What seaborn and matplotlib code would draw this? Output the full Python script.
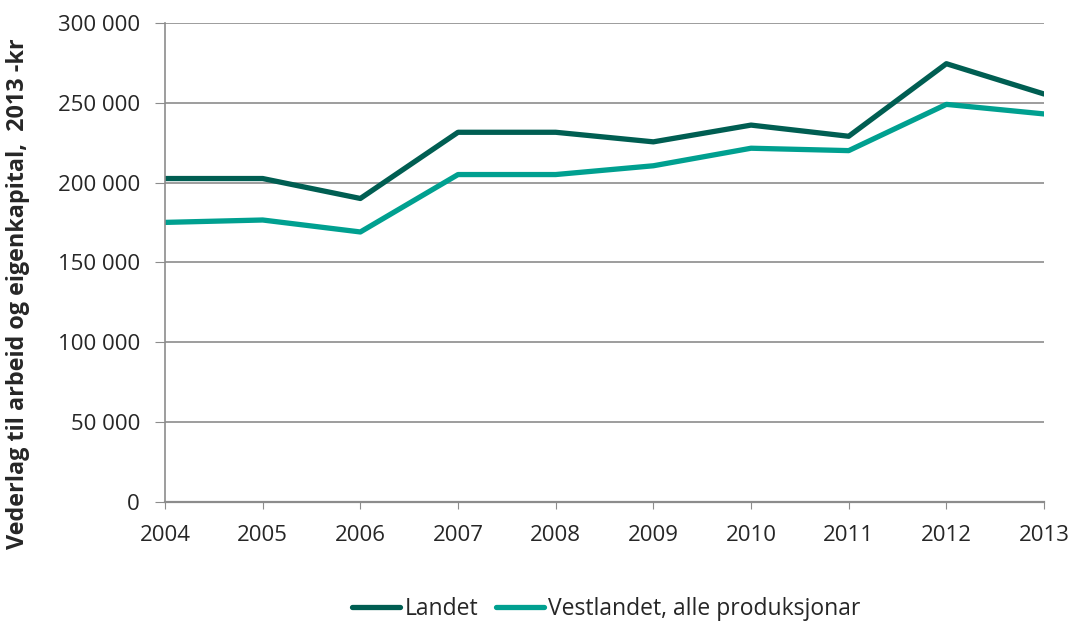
import numpy as np
import pandas as pd
import matplotlib
matplotlib.use('Agg')
import matplotlib.pyplot as plt
import seaborn as sns

years = [2004, 2005, 2006, 2007, 2008, 2009, 2010, 2011, 2012, 2013]
landet = [202500, 202500, 190000, 231500, 231500, 225500, 236000, 229000, 274500, 255500]
vestlandet = [175000, 176500, 169000, 205000, 205000, 210500, 221500, 220000, 249000, 243000]
series_names = ['Landet', 'Vestlandet, alle produksjonar']
colors = ['#005E52', '#00A090']
y_ticks = [0, 50000, 100000, 150000, 200000, 250000, 300000]

df = pd.DataFrame({'year': years * 2,
                   'value': landet + vestlandet,
                   'serie': [series_names[0]] * len(years) + [series_names[1]] * len(years)})

sns.set_style('white')
plt.rcParams['font.family'] = ['Open Sans', 'DejaVu Sans']

fig = plt.figure(figsize=(10.73, 6.24), dpi=100)
ax = fig.add_axes([0.1538, 0.1963, 0.8192, 0.7668])

sns.lineplot(data=df, x='year', y='value', hue='serie', palette=colors,
             linewidth=3.8, ax=ax, legend=True)

ax.set_xlim(2004, 2013)
ax.set_ylim(0, 300000)
ax.set_yticks(y_ticks)
ax.set_yticklabels([f'{v:,}'.replace(',', ' ') for v in y_ticks], fontsize=16)
ax.set_xticks(years)
ax.set_xticklabels([str(y) for y in years], fontsize=16)
ax.grid(axis='y', color='#8c8c8c', linewidth=1.2)
ax.set_axisbelow(True)
for s in ['top', 'right']:
    ax.spines[s].set_visible(False)
ax.spines['left'].set_color('#8c8c8c')
ax.spines['bottom'].set_color('#8c8c8c')
ax.spines['left'].set_linewidth(1.2)
ax.spines['bottom'].set_linewidth(1.6)
ax.tick_params(axis='y', length=7, color='#8c8c8c', direction='out', left=True, pad=11)
ax.tick_params(axis='x', length=5, color='#8c8c8c', direction='out', bottom=True, pad=12)

ax.set_xlabel('')
ax.set_ylabel('Vederlag til arbeid og eigenkapital,  2013 -kr', fontsize=16.8,
              fontweight='bold')
ax.yaxis.set_label_coords(-0.1536, 0.434)

handles, labels = ax.get_legend_handles_labels()
ax.legend(handles, labels, loc='center', bbox_to_anchor=(0.502, -0.225),
          ncol=2, frameon=False, fontsize=16.5, handlelength=2.1,
          handletextpad=0.2, columnspacing=0.75)

plt.savefig('out.png', dpi=100)
